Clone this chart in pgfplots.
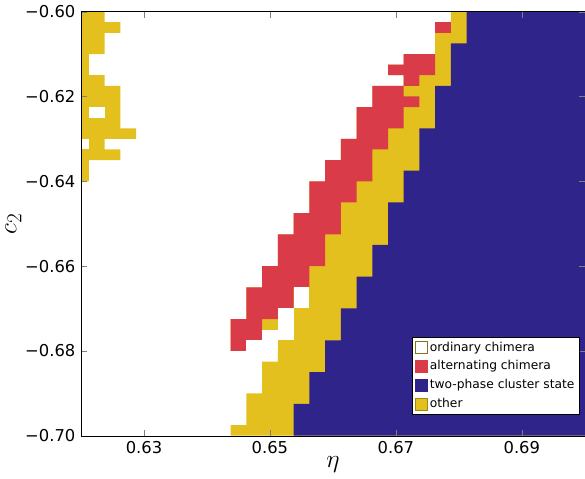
\documentclass[border=0pt]{standalone}
\usepackage{fontspec}
\setmainfont{DejaVu Sans}
\usepackage{pgfplots}
\pgfplotsset{compat=1.18}
\definecolor{yel}{RGB}{228,192,30}
\definecolor{red1}{RGB}{217,59,72}
\definecolor{blu}{RGB}{46,36,138}
\begin{document}
\fontsize{16}{18}\selectfont
\begin{tikzpicture}
\begin{axis}[scale only axis, width=493pt, height=415pt,
 xmin=0.62, xmax=0.70, ymin=-0.70, ymax=-0.60,
 xtick={0.63,0.65,0.67,0.69}, xticklabels={0.63,0.65,0.67,0.69},
 ytick={-0.70,-0.68,-0.66,-0.64,-0.62,-0.60},
 yticklabels={−0.70,−0.68,−0.66,−0.64,−0.62,−0.60},
 tick align=inside, major tick length=6pt,
 xlabel={\fontsize{26}{26}\selectfont$\eta$}, ylabel={\fontsize{28}{28}\selectfont$c_2$},
 xlabel style={yshift=8pt}, ylabel style={yshift=-7pt},
 axis on top,
 legend style={at={(0.99,0.05)}, anchor=south east, font=\fontsize{12}{14}\selectfont, draw=black, row sep=3pt, cells={anchor=west}},
 legend cell align=left,
 legend image code/.code={\draw[#1] (0pt,-6pt) rectangle (12pt,6pt);},
]
\addlegendimage{fill=white, draw=yel!60!black}
\addlegendentry{ordinary chimera}
\addlegendimage{fill=red1, draw=red1}
\addlegendentry{alternating chimera}
\addlegendimage{fill=blu, draw=blu}
\addlegendentry{two-phase cluster state}
\addlegendimage{fill=yel, draw=yel!70!black}
\addlegendentry{other}
% left strip (other)
\addplot[fill=yel, draw=none, forget plot] coordinates {(.62,-.60)(.62375,-.60)(.62375,-.6025)(.62625,-.6025)(.62625,-.605)(.62375,-.605)(.62375,-.61)(.62125,-.61)(.62125,-.615)(.62375,-.615)(.62375,-.6175)(.62625,-.6175)(.62625,-.6275)(.62875,-.6275)(.62875,-.63)(.62375,-.63)(.62375,-.6325)(.62625,-.6325)(.62625,-.635)(.62125,-.635)(.62125,-.64)(.62,-.64)} --cycle;
\addplot[fill=white, draw=none, forget plot] coordinates {(.62125,-.6225)(.62375,-.6225)(.62375,-.625)(.62125,-.625)} --cycle;
\addplot[fill=white, draw=none, forget plot] coordinates {(.62,-.63)(.62125,-.63)(.62125,-.6325)(.62,-.6325)} --cycle;
% other (yellow) band
\addplot[fill=yel, draw=none, forget plot] coordinates {(0.70,-0.60)(.67875,-.60)(.67875,-.6025)(.67625,-.6025)(.67625,-.61)(.67125,-.61)(.67125,-.6125)(.66875,-.6125)(.66875,-.615)(.67125,-.615)(.67125,-.6175)(.66625,-.6175)(.66625,-.6225)(.66375,-.6225)(.66375,-.63)(.66125,-.63)(.66125,-.635)(.65875,-.635)(.65875,-.64)(.65625,-.64)(.65625,-.6475)(.65375,-.6475)(.65375,-.6525)(.65125,-.6525)(.65125,-.66)(.64875,-.66)(.64875,-.665)(.64625,-.665)(.64625,-.6725)(.64375,-.6725)(.64375,-.68)(.65125,-.68)(.65125,-.6825)(.64875,-.6825)(.64875,-.69)(.64625,-.69)(.64625,-.6975)(.64375,-.6975)(.64375,-.70)(0.70,-.70)} --cycle;
% alternating chimera (red)
\addplot[fill=red1, draw=none, forget plot] coordinates {(.67625,-.6025)(.67875,-.6025)(.67875,-.605)(.67625,-.605)} --cycle;
\addplot[fill=red1, draw=none, forget plot] coordinates {(.67125,-.61)(.67125,-.6125)(.66875,-.6125)(.66875,-.615)(.67125,-.615)(.67125,-.6175)(.66625,-.6175)(.66625,-.6225)(.66375,-.6225)(.66375,-.63)(.66125,-.63)(.66125,-.635)(.65875,-.635)(.65875,-.64)(.65625,-.64)(.65625,-.6475)(.65375,-.6475)(.65375,-.6525)(.65125,-.6525)(.65125,-.66)(.64875,-.66)(.64875,-.665)(.64625,-.665)(.64625,-.6725)(.64375,-.6725)(.64375,-.68)(.64625,-.68)(.64625,-.6775)(.64875,-.6775)(.64875,-.6725)(.65125,-.6725)(.65125,-.67)(.65375,-.67)(.65375,-.665)(.65625,-.665)(.65625,-.66)(.65875,-.66)(.65875,-.6525)(.66125,-.6525)(.66125,-.645)(.66375,-.645)(.66375,-.64)(.66625,-.64)(.66625,-.6325)(.66875,-.6325)(.66875,-.6275)(.67125,-.6275)(.67125,-.6225)(.67375,-.6225)(.67375,-.62)(.67125,-.62)(.67125,-.6175)(.67375,-.6175)(.67375,-.615)(.67625,-.615)(.67625,-.61)} --cycle;
% ordinary chimera holes (white)
\addplot[fill=white, draw=none, forget plot] coordinates {(.65375,-.665)(.65625,-.665)(.65625,-.67)(.65375,-.67)} --cycle;
\addplot[fill=white, draw=none, forget plot] coordinates {(.65125,-.67)(.65375,-.67)(.65375,-.6775)(.65125,-.6775)} --cycle;
\addplot[fill=white, draw=none, forget plot] coordinates {(.64875,-.675)(.65125,-.675)(.65125,-.6775)(.64875,-.6775)} --cycle;
\addplot[fill=white, draw=none, forget plot] coordinates {(.64625,-.6775)(.65125,-.6775)(.65125,-.68)(.64625,-.68)} --cycle;
% two-phase cluster state (blue)
\addplot[fill=blu, draw=none, forget plot] coordinates {(0.70,-.60)(.68125,-.60)(.68125,-.6075)(.67875,-.6075)(.67875,-.6175)(.67625,-.6175)(.67625,-.6275)(.67375,-.6275)(.67375,-.6375)(.67125,-.6375)(.67125,-.645)(.66875,-.645)(.66875,-.655)(.66625,-.655)(.66625,-.6625)(.66375,-.6625)(.66375,-.67)(.66125,-.67)(.66125,-.6775)(.65875,-.6775)(.65875,-.685)(.65625,-.685)(.65625,-.6925)(.65375,-.6925)(.65375,-.70)(.70,-.70)} --cycle;
\end{axis}
\end{tikzpicture}
\end{document}
